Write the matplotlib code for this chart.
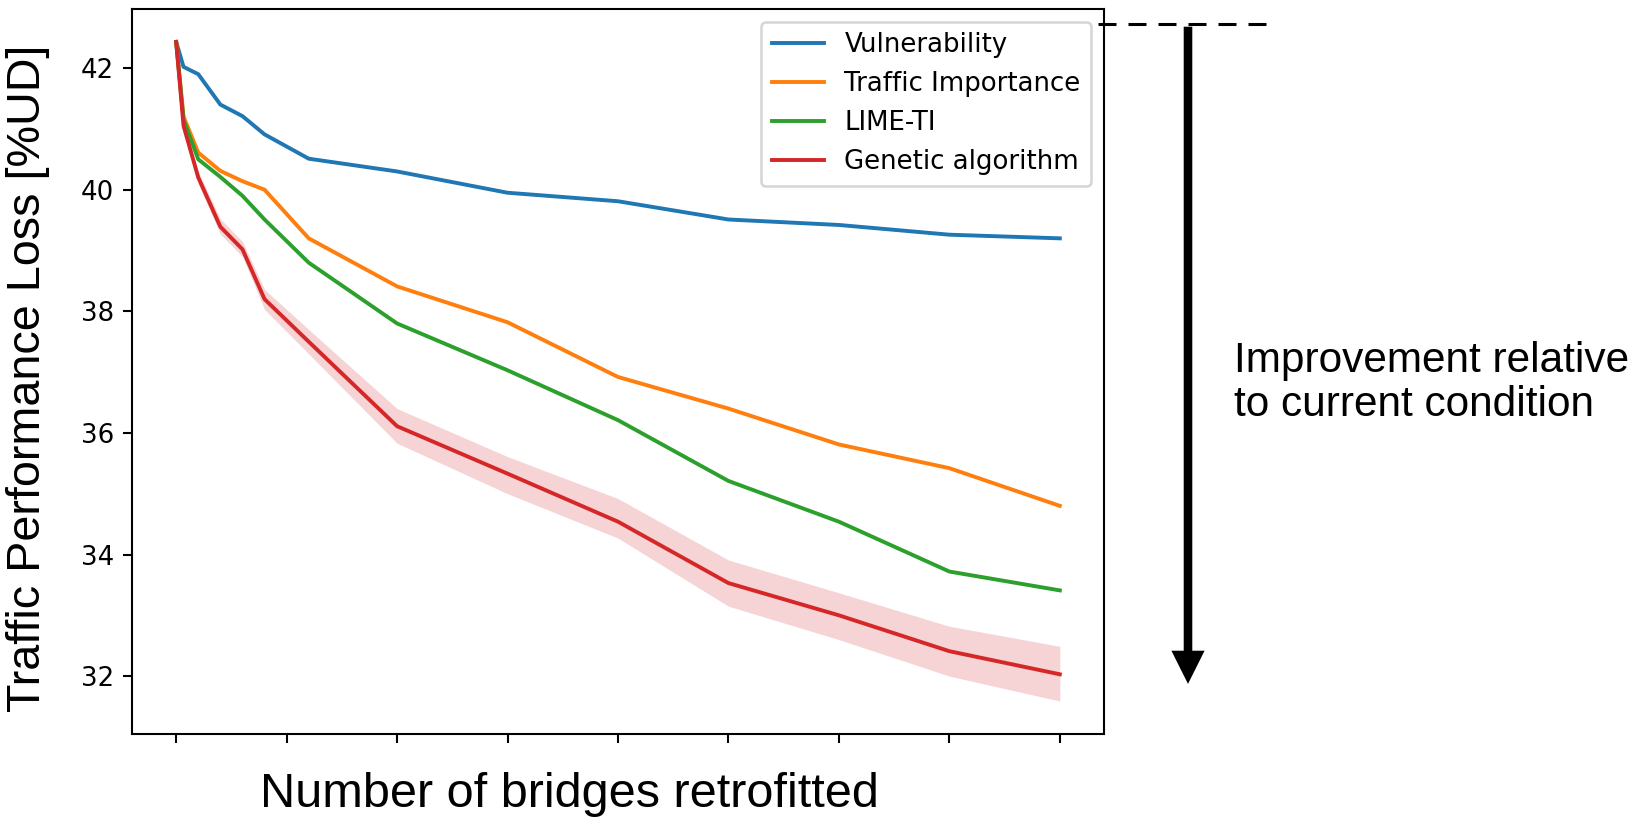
import matplotlib
matplotlib.use("Agg")
import numpy as np
import matplotlib.pyplot as plt
from matplotlib.patches import FancyArrow
from matplotlib.lines import Line2D

# number of bridges retrofitted (tick labels hidden in the original)
bridges = [0, 1, 3, 6, 9, 12, 18, 30, 45, 60, 75, 90, 105, 120]
xticks = [0, 15, 30, 45, 60, 75, 90, 105, 120]

vulnerability = [42.43, 42.02, 41.90, 41.40, 41.21, 40.91, 40.51, 40.30, 39.95, 39.81, 39.51, 39.42, 39.26, 39.20]
traffic_imp = [42.43, 41.20, 40.61, 40.31, 40.14, 40.00, 39.20, 38.41, 37.82, 36.92, 36.40, 35.81, 35.42, 34.80]
lime_ti = [42.43, 41.15, 40.50, 40.21, 39.90, 39.51, 38.80, 37.80, 37.03, 36.21, 35.21, 34.54, 33.72, 33.41]
genetic = [42.43, 41.05, 40.20, 39.39, 39.02, 38.20, 37.50, 36.11, 35.33, 34.54, 33.53, 33.00, 32.41, 32.03]
genetic_hi = [42.43, 41.10, 40.30, 39.52, 39.15, 38.36, 37.70, 36.40, 35.61, 34.92, 33.91, 33.37, 32.82, 32.49]
genetic_lo = [42.43, 41.00, 40.10, 39.27, 38.90, 38.03, 37.30, 35.83, 35.00, 34.27, 33.15, 32.60, 32.00, 31.59]

labels = ["Vulnerability", "Traffic Importance", "LIME-TI", "Genetic algorithm"]

k = 1.87
plt.rcParams.update({
    "font.size": 10 * k,
    "axes.linewidth": 0.8 * k,
    "xtick.major.size": 3.5 * k,
    "ytick.major.size": 3.5 * k,
    "xtick.major.width": 0.8 * k,
    "ytick.major.width": 0.8 * k,
    "xtick.major.pad": 3.5 * k,
    "ytick.major.pad": 3.5 * k,
    "lines.linewidth": 1.5 * k,
    "patch.linewidth": 1.0 * k,
    "legend.fontsize": 10 * k,
})

W, H = 1639, 822
fig = plt.figure(figsize=(W / 100, H / 100), dpi=100)
ax = fig.add_axes([132 / W, 1 - 734 / H, (1104 - 132) / W, (734 - 9) / H])

ax.plot(bridges, vulnerability, color="#1f77b4", label=labels[0])
ax.plot(bridges, traffic_imp, color="#ff7f0e", label=labels[1])
ax.plot(bridges, lime_ti, color="#2ca02c", label=labels[2])
ax.plot(bridges, genetic, color="#d62728", label=labels[3])
ax.fill_between(bridges, genetic_lo, genetic_hi, color="#d62728", alpha=0.2, linewidth=0)

ax.set_xticks(xticks)
ax.set_xticklabels([])
ax.set_yticks([32, 34, 36, 38, 40, 42])
ax.legend(loc="upper right")

sans = ["Liberation Sans", "DejaVu Sans"]
fig.text(569.5 / W, 1 - 794 / H, "Number of bridges retrofitted",
         ha="center", va="center", fontsize=35, family=sans)
fig.text(28 / W, 1 - 378 / H, "Traffic Performance Loss [%UD]",
         ha="center", va="center", rotation=90, fontsize=33.7, family=sans)
fig.text(1234 / W, 1 - 383 / H, "Improvement relative\nto current condition",
         ha="left", va="center", fontsize=30.5, family=sans, linespacing=1.15)

# dashed reference line and improvement arrow (figure inches)
lw = 2.2
dash = (18 * 0.72 / lw, 12 * 0.72 / lw)
fig.add_artist(Line2D([1098 / 100, 1278 / 100], [(H - 24) / 100] * 2,
                      transform=fig.dpi_scale_trans, color="black",
                      linewidth=lw, dashes=dash))
fig.add_artist(FancyArrow(1188 / 100, (H - 28) / 100, 0, -(681 - 28) / 100,
                          width=0.06, head_width=0.29, head_length=0.29,
                          length_includes_head=True, color="black",
                          transform=fig.dpi_scale_trans))

fig.savefig("out.png", dpi=100)
